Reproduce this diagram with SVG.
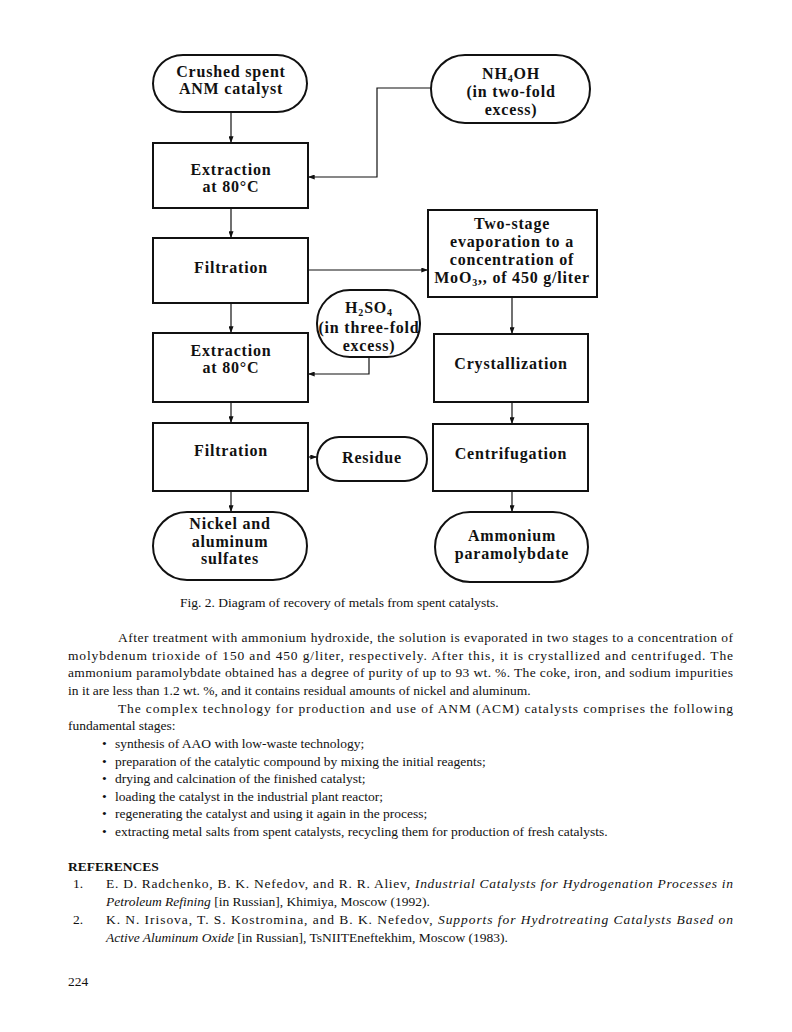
<svg xmlns="http://www.w3.org/2000/svg" width="792" height="1032" viewBox="0 0 792 1032">
<style>
.box{fill:#fff;stroke:#111;stroke-width:2}
.ln{fill:none;stroke:#111;stroke-width:1.2}
.n{font-family:"Liberation Serif",serif;font-weight:bold;font-size:16px;letter-spacing:0.8px;text-anchor:middle;fill:#111}
.b{font-family:"Liberation Serif",serif;font-size:13.5px;fill:#111}
.i{font-style:italic}
.bd{font-weight:bold}
</style>
<defs>
<marker id="ar" viewBox="0 0 8 6" refX="8" refY="3" markerWidth="7" markerHeight="5" markerUnits="userSpaceOnUse" orient="auto">
<path d="M0,0 L8,3 L0,6 z" fill="#111"/>
</marker>
</defs>
<rect width="792" height="1032" fill="#fff"/>
<g id="connectors">
<path class="ln" d="M231,112 V143" marker-end="url(#ar)"/>
<path class="ln" d="M431,88 H377 V177 H308" marker-end="url(#ar)"/>
<path class="ln" d="M231,208 V238" marker-end="url(#ar)"/>
<path class="ln" d="M308,270 H428" marker-end="url(#ar)"/>
<path class="ln" d="M231,303 V333" marker-end="url(#ar)"/>
<path class="ln" d="M369,357 V374 H308" marker-end="url(#ar)"/>
<path class="ln" d="M231,402 V423" marker-end="url(#ar)"/>
<path class="ln" d="M308,457 H317" marker-end="url(#ar)"/>
<path class="ln" d="M231,491 V512" marker-end="url(#ar)"/>
<path class="ln" d="M512,297 V334" marker-end="url(#ar)"/>
<path class="ln" d="M512,402 V424" marker-end="url(#ar)"/>
<path class="ln" d="M512,491 V512" marker-end="url(#ar)"/>
</g>
<g id="crushed">
<rect class="box" x="153" y="55" width="154" height="57" rx="30" ry="28.5"/>
<text class="n" x="231" y="77">Crushed spent</text>
<text class="n" x="231" y="94">ANM catalyst</text>
</g>
<g id="nh4oh">
<rect class="box" x="431" y="55" width="159" height="68" rx="34" ry="34"/>
<text class="n" x="511" y="79">NH<tspan font-size="10" dy="3">4</tspan><tspan dy="-3">OH</tspan></text>
<text class="n" x="511" y="97">(in two-fold</text>
<text class="n" x="511" y="115">excess)</text>
</g>
<g id="extraction1">
<rect class="box" x="153" y="143" width="155" height="65"/>
<text class="n" x="231" y="175">Extraction</text>
<text class="n" x="231" y="192">at 80°C</text>
</g>
<g id="filtration1">
<rect class="box" x="153" y="238" width="155" height="65"/>
<text class="n" x="231" y="273">Filtration</text>
</g>
<g id="twostage">
<rect class="box" x="428" y="210" width="169" height="87"/>
<text class="n" x="512" y="229">Two-stage</text>
<text class="n" x="512" y="247">evaporation to a</text>
<text class="n" x="512" y="265">concentration of</text>
<text class="n" x="512" y="283">MoO<tspan font-size="10" dy="3">3</tspan><tspan dy="-3">,, of 450 g/liter</tspan></text>
</g>
<g id="h2so4">
<rect class="box" x="317" y="290" width="103" height="67" rx="33" ry="33"/>
<text class="n" x="369" y="313">H<tspan font-size="10" dy="3">2</tspan><tspan dy="-3">SO</tspan><tspan font-size="10" dy="3">4</tspan></text>
<text class="n" x="369" y="333">(in three-fold</text>
<text class="n" x="369" y="351">excess)</text>
</g>
<g id="extraction2">
<rect class="box" x="153" y="333" width="155" height="69"/>
<text class="n" x="231" y="356">Extraction</text>
<text class="n" x="231" y="373">at 80°C</text>
</g>
<g id="crystallization">
<rect class="box" x="434" y="334" width="154" height="68"/>
<text class="n" x="511" y="369">Crystallization</text>
</g>
<g id="filtration2">
<rect class="box" x="153" y="423" width="155" height="68"/>
<text class="n" x="231" y="456">Filtration</text>
</g>
<g id="residue">
<rect class="box" x="317" y="437" width="110" height="44" rx="22" ry="22"/>
<text class="n" x="372" y="463">Residue</text>
</g>
<g id="centrifugation">
<rect class="box" x="433" y="424" width="155" height="67"/>
<text class="n" x="511" y="459">Centrifugation</text>
</g>
<g id="nickel">
<rect class="box" x="153" y="512" width="154" height="68" rx="34" ry="34"/>
<text class="n" x="230" y="529">Nickel and</text>
<text class="n" x="230" y="547">aluminum</text>
<text class="n" x="230" y="564">sulfates</text>
</g>
<g id="ammonium">
<rect class="box" x="435" y="512" width="153" height="70" rx="35" ry="35"/>
<text class="n" x="512" y="541">Ammonium</text>
<text class="n" x="512" y="559">paramolybdate</text>
</g>
<g id="body">
<text class="b" x="180" y="607">Fig. 2.  Diagram of recovery of metals from spent catalysts.</text>
<text class="b" x="118" y="642" textLength="615" lengthAdjust="spacing">After treatment with ammonium hydroxide, the solution is evaporated in two stages to a concentration of</text>
<text class="b" x="68" y="660" textLength="665" lengthAdjust="spacing">molybdenum trioxide of 150 and 450 g/liter, respectively.  After this, it is crystallized and centrifuged.  The</text>
<text class="b" x="68" y="677" textLength="665" lengthAdjust="spacing">ammonium paramolybdate obtained has a degree of purity of up to 93 wt. %.  The coke, iron, and sodium impurities</text>
<text class="b" x="68" y="695">in it are less than 1.2 wt. %, and it contains residual amounts of nickel and aluminum.</text>
<text class="b" x="118" y="713" textLength="615" lengthAdjust="spacing">The complex technology for production and use of ANM (ACM) catalysts comprises the following</text>
<text class="b" x="68" y="730">fundamental stages:</text>
<text class="b" x="102" y="748">•</text><text class="b" x="115" y="748">synthesis of AAO with low-waste technology;</text>
<text class="b" x="102" y="766">•</text><text class="b" x="115" y="766">preparation of the catalytic compound by mixing the initial reagents;</text>
<text class="b" x="102" y="783">•</text><text class="b" x="115" y="783">drying and calcination of the finished catalyst;</text>
<text class="b" x="102" y="801">•</text><text class="b" x="115" y="801">loading the catalyst in the industrial plant reactor;</text>
<text class="b" x="102" y="818">•</text><text class="b" x="115" y="818">regenerating the catalyst and using it again in the process;</text>
<text class="b" x="102" y="836">•</text><text class="b" x="115" y="836">extracting metal salts from spent catalysts, recycling them for production of fresh catalysts.</text>
<text class="b bd" x="68" y="871">REFERENCES</text>
<text class="b" x="73" y="888">1.</text>
<text class="b" x="106" y="888" textLength="627" lengthAdjust="spacing">E. D. Radchenko, B. K. Nefedov, and R. R. Aliev, <tspan class="i">Industrial Catalysts for Hydrogenation Processes in</tspan></text>
<text class="b" x="106" y="906"><tspan class="i">Petroleum Refining</tspan> [in Russian], Khimiya, Moscow (1992).</text>
<text class="b" x="73" y="924">2.</text>
<text class="b" x="106" y="924" textLength="627" lengthAdjust="spacing">K. N. Irisova, T. S. Kostromina, and B. K. Nefedov, <tspan class="i">Supports for Hydrotreating Catalysts Based on</tspan></text>
<text class="b" x="106" y="942"><tspan class="i">Active Aluminum Oxide</tspan> [in Russian], TsNIITEneftekhim, Moscow (1983).</text>
<text class="b" x="68" y="986">224</text>
</g>
</svg>
